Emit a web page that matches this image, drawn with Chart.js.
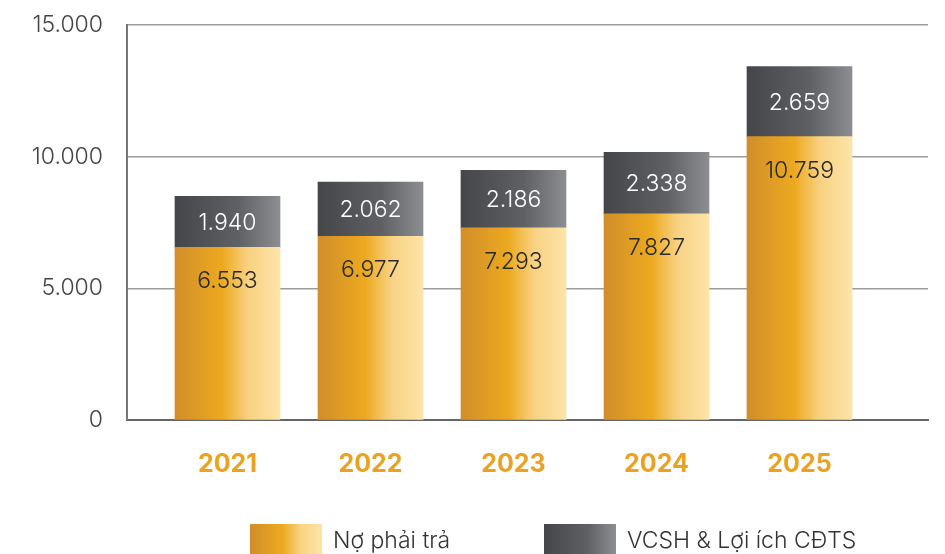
<!DOCTYPE html>
<html>
<head>
<meta charset="utf-8">
<script src="https://cdn.jsdelivr.net/npm/chart.js@4"></script>
<style>
  html, body { margin: 0; background: #fff; }
  #wrap { width: 945px; height: 554px; }
</style>
</head>
<body>
<div id="wrap"><canvas id="c"></canvas></div>
<script>
const YEARS = [2021, 2022, 2023, 2024, 2025];
const NO_PHAI_TRA = [6553, 6977, 7293, 7827, 10759];
const VCSH = [1940, 2062, 2186, 2338, 2659];
const SERIES_NAMES = ["Nợ phải trả", "VCSH & Lợi ích CĐTS"];

const BAR_W = 105;
const ORANGE = [[0, "#d18e2a"], [0.45, "#eca91f"], [0.7, "#f8d283"], [1, "#fde4a8"]];
const GRAY = [[0, "#454649"], [0.6, "#5f6064"], [1, "#8d8e92"]];
const FONT = "Inter, 'Noto Sans', sans-serif";

const fmt = (n) => String(n).replace(/\B(?=(\d{3})+(?!\d))/g, ".");

function grad(ctx, x0, x1, stops) {
  const g = ctx.createLinearGradient(x0, 0, x1, 0);
  stops.forEach(([p, c]) => g.addColorStop(p, c));
  return g;
}

function barFill(stops) {
  return (c) => {
    const chart = c.chart;
    const x = chart.scales.x;
    if (!chart.chartArea || !x || c.type !== "data") return stops[1][1];
    const cx = x.getPixelForValue(YEARS[c.dataIndex]);
    return grad(chart.ctx, cx - BAR_W / 2, cx + BAR_W / 2, stops);
  };
}

// so lieu ghi trong cot
const valueLabels = {
  id: "valueLabels",
  afterDatasetsDraw(chart) {
    const ctx = chart.ctx;
    ctx.save();
    ctx.font = "300 23px " + FONT;
    ctx.textAlign = "center";
    ctx.textBaseline = "middle";
    chart.data.datasets.forEach((ds, di) => {
      chart.getDatasetMeta(di).data.forEach((bar, i) => {
        const y = di === 0 ? bar.y + 34 : (bar.y + bar.base) / 2 + 1;
        ctx.fillStyle = di === 0 ? "#2a2a2a" : "#ffffff";
        ctx.fillText(fmt(ds.data[i]), bar.x, y);
      });
    });
    ctx.restore();
  },
};

// chu thich phia duoi
const bottomLegend = {
  id: "bottomLegend",
  afterDraw(chart) {
    const ctx = chart.ctx;
    const items = [
      { x: 250, stops: ORANGE },
      { x: 544, stops: GRAY },
    ];
    ctx.save();
    ctx.font = "300 23px " + FONT;
    ctx.textBaseline = "middle";
    items.forEach((it, i) => {
      ctx.fillStyle = grad(ctx, it.x, it.x + 72, it.stops);
      ctx.fillRect(it.x, 524, 72, 32);
      ctx.fillStyle = "#333";
      ctx.fillText(chart.data.datasets[i].label, it.x + 83, 541);
    });
    ctx.restore();
  },
};

new Chart(document.getElementById("c"), {
  type: "bar",
  data: {
    labels: YEARS,
    datasets: [
      { label: SERIES_NAMES[0], data: NO_PHAI_TRA, backgroundColor: barFill(ORANGE), barThickness: BAR_W },
      { label: SERIES_NAMES[1], data: VCSH, backgroundColor: barFill(GRAY), barThickness: BAR_W },
    ],
  },
  options: {
    responsive: true, maintainAspectRatio: false,
    animation: false,
    layout: { padding: { top: 25, right: 17, bottom: 0, left: 0 } },
    plugins: { legend: { display: false }, tooltip: { enabled: false } },
    scales: {
      x: {
        type: "linear", stacked: true, offset: false,
        min: 2021 - 0.7028, max: 2021 + 4.8986,
        afterBuildTicks: (s) => { s.ticks = YEARS.map((v) => ({ value: v })); },
        afterFit: (s) => { s.height = 134; },
        grid: { display: false },
        border: { display: true, color: "#666", width: 2 },
        ticks: { color: "#e9a321", padding: 21, font: { family: FONT, size: 25, weight: "bold" }, callback: (v) => String(v) },
      },
      y: {
        stacked: true, min: 0, max: 15000,
        afterFit: (s) => { s.width = 127; s.paddingTop = 0; s.paddingBottom = 0; },
        grid: { color: "#9c9c9c", lineWidth: 1.4, drawTicks: false },
        border: { display: true, color: "#777", width: 2 },
        ticks: { stepSize: 5000, color: "#444", padding: 24, font: { family: FONT, size: 23, weight: "300" }, callback: (v) => fmt(v) },
      },
    },
  },
  plugins: [valueLabels, bottomLegend],
});
</script>
</body>
</html>
